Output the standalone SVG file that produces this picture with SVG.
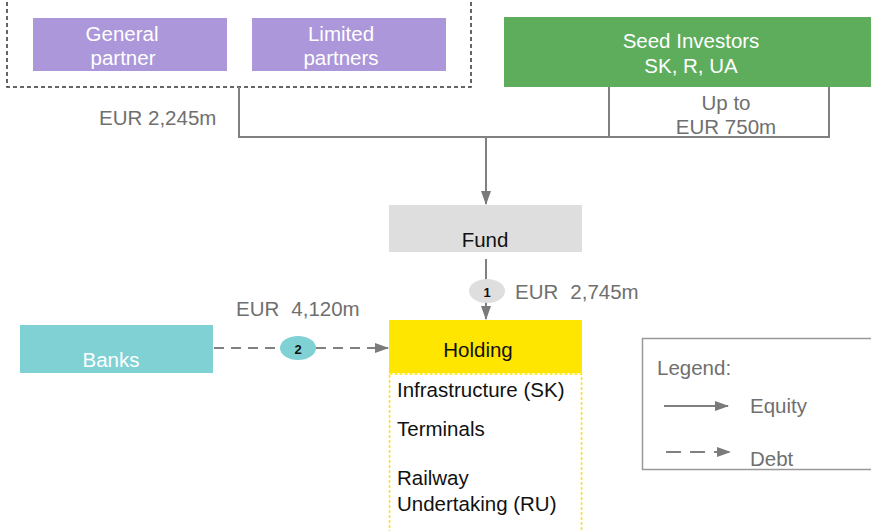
<svg xmlns="http://www.w3.org/2000/svg" width="871" height="531" viewBox="0 0 871 531">
<style>
text{font-family:"Liberation Sans",Arial,sans-serif;font-size:20.5px}
.w{fill:#fff}
.g{fill:#6f6f6f}
.k{fill:#111}
.ln{stroke:#808080;stroke-width:2;fill:none}
.dl{stroke:#808080;stroke-width:2;fill:none;stroke-dasharray:10,7}
.ldl{stroke:#808080;stroke-width:2;fill:none;stroke-dasharray:15,9}
</style>
<defs>
<marker id="ah" viewBox="0 0 14 10" refX="13" refY="5" markerWidth="7" markerHeight="5" orient="auto" markerUnits="strokeWidth">
<path d="M0,0 L14,5 L0,10 z" fill="#7a7a7a"/>
</marker>
</defs>
<rect width="871" height="531" fill="#fff"/>
<g id="partners-box">
<rect x="7" y="-10" width="464" height="97" fill="none" stroke="#333" stroke-width="1.5" stroke-dasharray="4,3"/>
</g>
<g id="general-partner">
<rect x="33" y="18" width="194" height="53" fill="#ab97da"/>
<text class="w" x="122" y="41" text-anchor="middle">General</text>
<text class="w" x="123" y="65" text-anchor="middle">partner</text>
</g>
<g id="limited-partners">
<rect x="252" y="18" width="194" height="53" fill="#ab97da"/>
<text class="w" x="341" y="41" text-anchor="middle">Limited</text>
<text class="w" x="341" y="65" text-anchor="middle">partners</text>
</g>
<g id="seed-investors">
<rect x="504" y="17" width="367" height="70" fill="#5dad5d"/>
<text class="w" x="691" y="48" text-anchor="middle">Seed Investors</text>
<text class="w" x="691" y="73" text-anchor="middle">SK, R, UA</text>
</g>
<g id="fund">
<rect x="389" y="205" width="193" height="47" fill="#dedede"/>
<text class="k" x="485" y="247" text-anchor="middle">Fund</text>
</g>
<g id="holding">
<rect x="389" y="320" width="193" height="53" fill="#ffe600"/>
<text class="k" x="478" y="357" text-anchor="middle">Holding</text>
<rect x="389.5" y="374" width="192" height="160" fill="none" stroke="#ffe600" stroke-width="1.5" stroke-dasharray="3,2"/>
<text class="k" x="397" y="397">Infrastructure (SK)</text>
<text class="k" x="397" y="436">Terminals</text>
<text class="k" x="397" y="485">Railway</text>
<text class="k" x="397" y="511">Undertaking (RU)</text>
</g>
<g id="banks">
<rect x="20" y="325" width="193" height="48" fill="#7fd1d4"/>
<text class="w" x="111" y="367" text-anchor="middle">Banks</text>
</g>
<g id="connectors">
<polyline class="ln" points="239,87 239,137 829,137 829,87"/>
<line class="ln" x1="609" y1="87" x2="609" y2="137"/>
<line class="ln" x1="486" y1="137" x2="486" y2="204" marker-end="url(#ah)"/>
<line class="ln" x1="486" y1="259" x2="486" y2="319" marker-end="url(#ah)"/>
<line class="dl" x1="214" y1="348" x2="388" y2="348" marker-end="url(#ah)"/>
<ellipse cx="487" cy="291" rx="18" ry="12" fill="#dedede"/>
<text x="487" y="297" text-anchor="middle" style="font-size:13px;font-weight:bold" fill="#111">1</text>
<ellipse cx="298" cy="348" rx="18" ry="12" fill="#7fd1d4"/>
<text x="298" y="354" text-anchor="middle" style="font-size:13px;font-weight:bold" fill="#111">2</text>
<text class="g" x="99" y="125">EUR 2,245m</text>
<text class="g" x="726" y="110" text-anchor="middle">Up to</text>
<text class="g" x="726" y="134" text-anchor="middle">EUR 750m</text>
<text class="g" x="515" y="299">EUR<tspan dx="12">2,745m</tspan></text>
<text class="g" x="236" y="316">EUR<tspan dx="12">4,120m</tspan></text>
</g>
<g id="legend">
<rect x="642.5" y="338.5" width="240" height="131" fill="none" stroke="#999" stroke-width="1.5"/>
<text class="g" x="657" y="375">Legend:</text>
<line class="ln" x1="664" y1="406" x2="728" y2="406" marker-end="url(#ah)"/>
<text class="g" x="750" y="413">Equity</text>
<line class="ldl" x1="666" y1="452" x2="730" y2="452" marker-end="url(#ah)"/>
<text class="g" x="750" y="466">Debt</text>
</g>
</svg>
